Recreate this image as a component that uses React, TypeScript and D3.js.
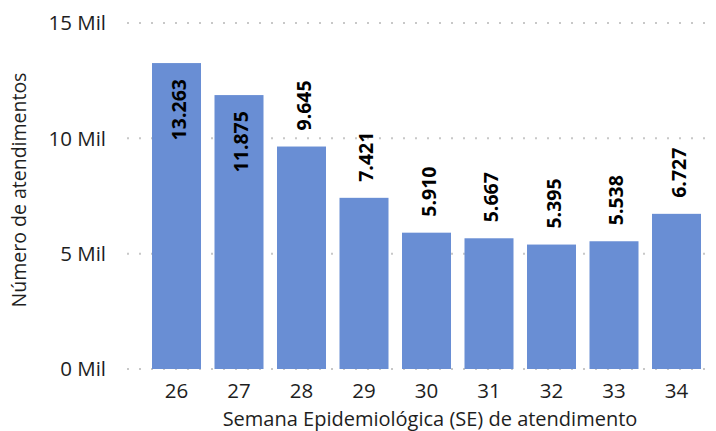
import * as d3 from "d3";

// Atendimentos por semana epidemiológica
const weeks = ["26", "27", "28", "29", "30", "31", "32", "33", "34"];
const counts = [13263, 11875, 9645, 7421, 5910, 5667, 5395, 5538, 6727];
const yTicks = [0, 5000, 10000, 15000];

const W = 716;
const H = 431;
const FONT = "'Open Sans', 'Noto Sans', sans-serif";
const BAR = "#698ed4";
const INK = "#1e1e1e";

const x = d3.scaleBand<string>().domain(weeks).range([145.25, 707.75]).paddingInner(0.216).paddingOuter(0.108);
const y = d3.scaleLinear().domain([0, 15000]).range([369, 23]);

const fmtTick = (v: number) => `${v / 1000} Mil`;
const fmtLabel = (v: number) => d3.format(",")(v).replace(/,/g, ".");

export default function App() {
  const gap = 16;
  const labelLen = 64;
  return (
    <svg width={W} height={H} viewBox={`0 0 ${W} ${H}`} style={{ position: "absolute", left: 0, top: 0, fontFamily: FONT }}>
      <rect width={W} height={H} fill="#fff" />
      {/* dotted grid */}
      {yTicks.map((t) => (
        <g key={t}>
          <line x1={127} x2={712} y1={y(t)} y2={y(t)} stroke="#c8c8c8" strokeWidth={2} strokeDasharray="2 10" />
          <text x={106} y={y(t)} dy="0.35em" textAnchor="end" fontSize={20.5} fill={INK}>
            {fmtTick(t)}
          </text>
        </g>
      ))}
      {weeks.map((w, i) => {
        const v = counts[i];
        const top = y(v);
        const cx = x(w)! + x.bandwidth() / 2;
        // label goes outside unless it would leave the plot area
        const inside = top - gap - labelLen < y(15000) + 10;
        const ly = inside ? top + gap : top - gap;
        return (
          <g key={w}>
            <rect x={x(w)} y={top} width={x.bandwidth()} height={y(0) - top} fill={BAR} />
            <text
              transform={`translate(${cx + 2},${ly}) rotate(-90)`}
              textAnchor={inside ? "end" : "start"}
              dy="0.36em"
              fontSize={19.5}
              fontWeight={700}
              fill="#000"
            >
              {fmtLabel(v)}
            </text>
            <text x={cx} y={391} dy="0.35em" textAnchor="middle" fontSize={20.5} fill={INK}>
              {w}
            </text>
          </g>
        );
      })}
      <text x={430} y={418.5} dy="0.35em" textAnchor="middle" fontSize={20} fill={INK}>
        Semana Epidemiológica (SE) de atendimento
      </text>
      <text transform="translate(19,190) rotate(-90)" dy="0.35em" textAnchor="middle" fontSize={19.5} fill={INK}>
        Número de atendimentos
      </text>
    </svg>
  );
}
